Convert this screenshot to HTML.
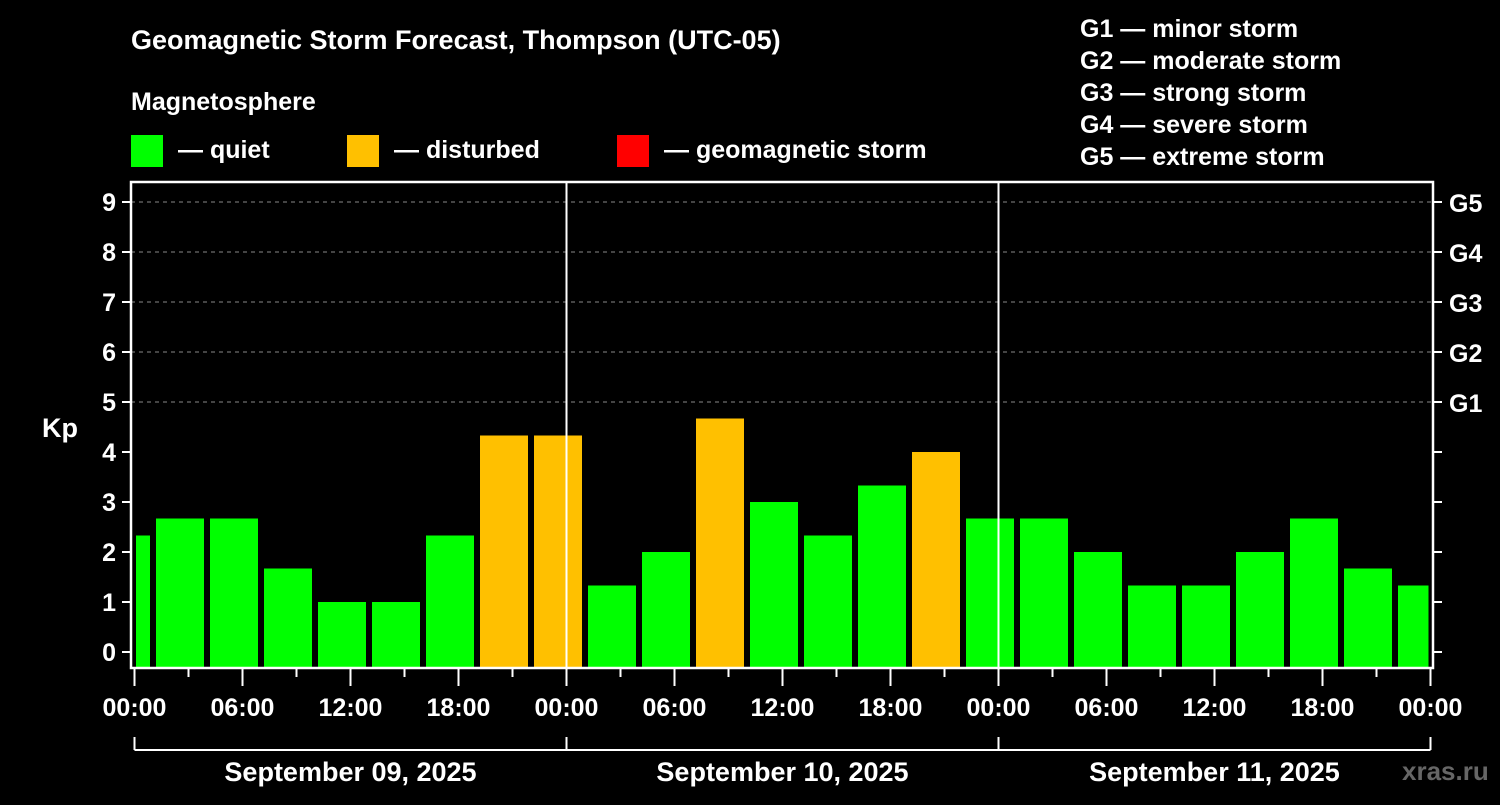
<!DOCTYPE html>
<html><head><meta charset="utf-8"><style>
body{margin:0;background:#000;width:1500px;height:800px;overflow:hidden;font-family:"Liberation Sans",Arial,sans-serif;}
svg text{font-family:"Liberation Sans",Arial,sans-serif;font-weight:bold;fill:#fff;}
</style></head><body>
<svg id="c" width="1500" height="800">
<text x="131" y="49" font-size="27">Geomagnetic Storm Forecast, Thompson (UTC-05)</text>
<text x="131" y="110" font-size="25">Magnetosphere</text>
<g><rect x="131" y="135" width="32" height="32" fill="#00ff00"/><text x="178" y="158" font-size="25">— quiet</text></g>
<g><rect x="347" y="135" width="32" height="32" fill="#ffc000"/><text x="394" y="158" font-size="25">— disturbed</text></g>
<g><rect x="617" y="135" width="32" height="32" fill="#ff0000"/><text x="664" y="158" font-size="25">— geomagnetic storm</text></g>
<g font-size="25">
<text x="1080" y="37">G1 — minor storm</text>
<text x="1080" y="69">G2 — moderate storm</text>
<text x="1080" y="101">G3 — strong storm</text>
<text x="1080" y="133">G4 — severe storm</text>
<text x="1080" y="165">G5 — extreme storm</text>
</g>
<text x="42" y="437" font-size="27">Kp</text>
<text x="1402" y="780" font-size="26" fill="#666" style="fill:#666">xras.ru</text>
<g id="grid"></g><g id="bars"></g><g id="axes"></g>
</svg>
<script>
const kpValues=[2.33,2.67,2.67,1.67,1,1,2.33,4.33,4.33,1.33,2,4.67,3,2.33,3.33,4,2.67,2.67,2,1.33,1.33,2,2.67,1.67,1.33];
const barStartHours=[-2,1,4,7,10,13,16,19,22,25,28,31,34,37,40,43,46,49,52,55,58,61,64,67,70];
const yTicks=[0,1,2,3,4,5,6,7,8,9];
const gLabels=["","","","","","G1","G2","G3","G4","G5"];
const xTickLabels=["00:00","06:00","12:00","18:00","00:00","06:00","12:00","18:00","00:00","06:00","12:00","18:00","00:00"];
const dayLabels=["September 09, 2025","September 10, 2025","September 11, 2025"];
const NS="http://www.w3.org/2000/svg";
const X0=134.5,PXH=18,Y0=652,PXK=50,TOP=182,BOT=668;
const xs=h=>X0+h*PXH, ys=v=>Y0-v*PXK;
function mk(p,tag,a){const e=document.createElementNS(NS,tag);for(const k in a)e.setAttribute(k,a[k]);document.getElementById(p).appendChild(e);return e;}
yTicks.forEach((v,i)=>{
 if(v>=5){const g=mk('grid','line',{x1:131,x2:1433,y1:ys(v),y2:ys(v),stroke:'#888','stroke-dasharray':'4,4','stroke-width':1});
 
 }
 mk('axes','line',{x1:122,x2:131,y1:ys(v),y2:ys(v),stroke:'#fff','stroke-width':2});
 mk('axes','line',{x1:1433,x2:1442,y1:ys(v),y2:ys(v),stroke:'#fff','stroke-width':2});
 const t=mk('axes','text',{x:116,y:ys(v)+9,'font-size':25,'text-anchor':'end'});t.textContent=v;
 
 
 if(gLabels[i]){const g=mk('axes','text',{x:1449,y:ys(v)+10,'font-size':25});g.textContent=gLabels[i];
 
 }
});
kpValues.forEach((v,i)=>{
 const s=barStartHours[i];let x1=xs(s)+3.5,x2=xs(s+3)-2.5;
 x1=Math.max(x1,xs(0)+1.5);x2=Math.min(x2,xs(72)-2);
 const col=v>=5?'#ff0000':(v>=4?'#ffc000':'#00ff00');
 const r=mk('bars','rect',{x:x1,y:ys(v),width:x2-x1,height:BOT-ys(v),fill:col});
 
 
});
[24,48].forEach(h=>mk('axes','line',{x1:xs(h),x2:xs(h),y1:TOP,y2:BOT,stroke:'#fff','stroke-width':2}));
const box=mk('axes','rect',{x:131,y:182,width:1302,height:486,fill:'none',stroke:'#fff','stroke-width':2.5});


for(let h=0;h<=72;h+=3){mk('axes','line',{x1:xs(h),x2:xs(h),y1:BOT,y2:h%6?677:686,stroke:'#fff','stroke-width':2});}
xTickLabels.forEach((l,i)=>{const t=mk('axes','text',{x:xs(i*6),y:716,'font-size':25,'text-anchor':'middle'});t.textContent=l;
 
 });
mk('axes','line',{x1:xs(0),x2:xs(72),y1:750,y2:750,stroke:'#fff','stroke-width':2});
[0,24,48,72].forEach(h=>mk('axes','line',{x1:xs(h),x2:xs(h),y1:737,y2:750,stroke:'#fff','stroke-width':2}));
dayLabels.forEach((l,i)=>{const t=mk('axes','text',{x:xs(i*24+12),y:781,'font-size':27,'text-anchor':'middle'});t.textContent=l;
 
 });
</script>
</body></html>
